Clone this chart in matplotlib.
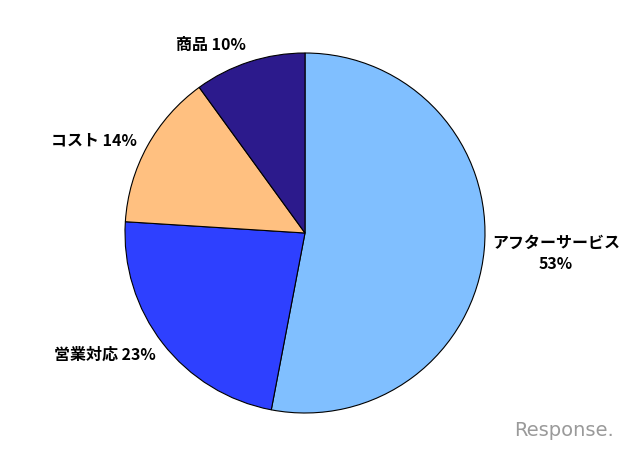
import matplotlib
matplotlib.use("Agg")
import matplotlib.pyplot as plt

plt.rcParams['font.family'] = ['Noto Sans CJK JP', 'DejaVu Sans']

# 顧客満足度の内訳 (%)
categories = ["アフターサービス", "営業対応", "コスト", "商品"]
values = [53, 23, 14, 10]
colors = ["#80BFFF", "#2E40FF", "#FFC080", "#2C1A8C"]

W, H = 628, 449
fig = plt.figure(figsize=(W / 100, H / 100), dpi=100)
ax = fig.add_axes([0, 0, 1, 1])
ax.axis("off")

ax.pie(values, colors=colors, startangle=90, counterclock=False,
       center=(305, H - 233), radius=180,
       wedgeprops=dict(edgecolor="black", linewidth=0.8))
ax.set_xlim(0, W)
ax.set_ylim(0, H)
ax.set_aspect("equal")

kw = dict(fontsize=11.5, fontweight="bold", color="black")
ax.text(556, H - 243, categories[0], ha="center", va="center", **kw)
ax.text(556, H - 264, f"{values[0]}%", ha="center", va="center", **kw)
ax.text(156, H - 355, f"{categories[1]} {values[1]}%", ha="right", va="center", **kw)
ax.text(137, H - 140, f"{categories[2]} {values[2]}%", ha="right", va="center", **kw)
ax.text(246, H - 45, f"{categories[3]} {values[3]}%", ha="right", va="center", **kw)

ax.text(614, H - 430, "Response.", ha="right", va="center", fontsize=14,
        color="#9a9a9a", family="DejaVu Sans")

fig.savefig("out.png", dpi=100)
